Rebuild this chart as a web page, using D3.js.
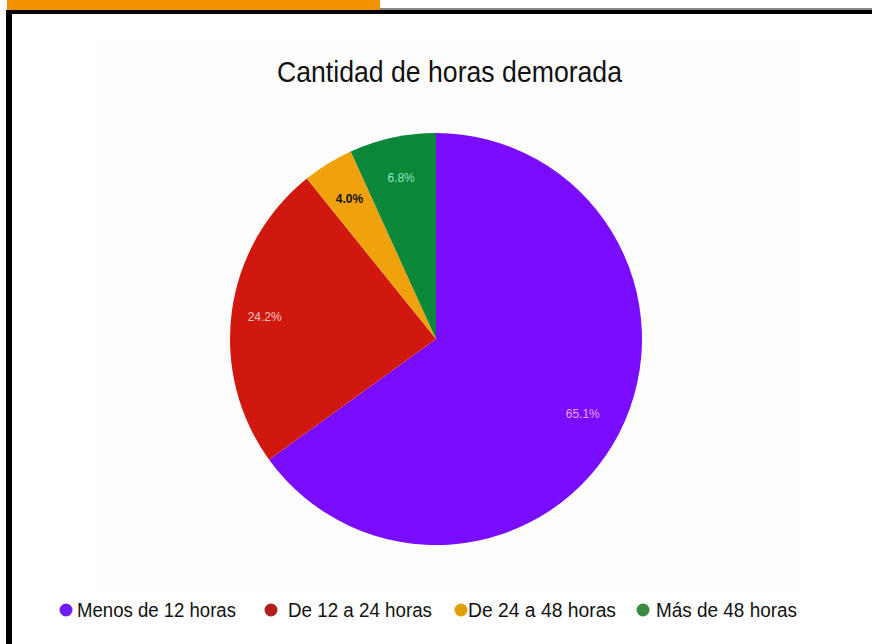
<!DOCTYPE html>
<html>
<head>
<meta charset="utf-8">
<script src="https://cdn.jsdelivr.net/npm/d3@7"></script>
<style>
  body { margin: 0; background: #fff; }
  svg { display: block; }
</style>
</head>
<body>
<svg></svg>
<script>
// data
var categories = ["Menos de 12 horas", "De 12 a 24 horas", "De 24 a 48 horas", "Más de 48 horas"];
var values = [65.1, 24.2, 4.0, 6.8];
var sliceColors = ["#7a0dff", "#d0180f", "#f0a20c", "#0b873a"];
var legendColors = ["#6f1cff", "#b21f1f", "#e2a006", "#3a8c42"];
var labelColors = ["#e7a6f2", "#f6c6c6", "#111111", "#8fe6c6"];
var title = "Cantidad de horas demorada";

var width = 872, height = 644;
var cx = 436, cy = 339, radius = 206;
var narrow = "'Liberation Sans Narrow', 'Arial Narrow', 'Liberation Sans', sans-serif";

var svg = d3.select("svg")
    .attr("width", width)
    .attr("height", height);

// frame
svg.append("rect")
    .attr("x", 7).attr("y", 0)
    .attr("width", 373).attr("height", 11)
    .attr("fill", "#f29100");
svg.append("rect")
    .attr("x", 380).attr("y", 8)
    .attr("width", width - 380).attr("height", 2)
    .attr("fill", "#888");
svg.append("rect")
    .attr("x", 6).attr("y", 10)
    .attr("width", width - 6).attr("height", 4)
    .attr("fill", "#000");
svg.append("rect")
    .attr("x", 6).attr("y", 10)
    .attr("width", 6).attr("height", height - 10)
    .attr("fill", "#000");

// faint backdrop of the pasted chart
svg.append("rect")
    .attr("x", 92).attr("y", 40)
    .attr("width", 712).attr("height", 556)
    .attr("fill", "#fefefe");

svg.append("text")
    .attr("x", 277)
    .attr("y", 82)
    .attr("textLength", 345)
    .attr("lengthAdjust", "spacingAndGlyphs")
    .style("font-family", narrow)
    .style("font-size", "30px")
    .attr("fill", "#111")
    .text(title);

var pie = d3.pie().sort(null).value(function(d) { return d; });
var arc = d3.arc().innerRadius(0).outerRadius(radius);
var labelArc = d3.arc().innerRadius(radius * 0.8).outerRadius(radius * 0.8);

var g = svg.append("g")
    .attr("transform", "translate(" + cx + "," + cy + ")");

var arcs = pie(values);

g.selectAll("path.slice")
    .data(arcs)
  .enter().append("path")
    .attr("class", "slice")
    .attr("d", arc)
    .attr("fill", function(d, i) { return sliceColors[i]; });

g.selectAll("text.pct")
    .data(arcs)
  .enter().append("text")
    .attr("class", "pct")
    .attr("transform", function(d, i) {
      var c = labelArc.centroid(d);
      if (i == 1) c[0] -= 8;
      return "translate(" + c + ")";
    })
    .attr("dy", "0.35em")
    .attr("text-anchor", "middle")
    .style("font-family", "'Liberation Sans', Arial, sans-serif")
    .style("font-size", "12px")
    .style("font-weight", function(d, i) { return i == 2 ? "bold" : "normal"; })
    .attr("fill", function(d, i) { return labelColors[i]; })
    .text(function(d) { return d.data.toFixed(1) + "%"; });

// legend
var legendX = [66, 271, 461, 643];
var legendGap = [11, 17, 7, 13];
var legendW = [159, 144, 148, 141];
var legendY = 610;

var legend = svg.selectAll("g.legend")
    .data(categories)
  .enter().append("g")
    .attr("class", "legend")
    .attr("transform", function(d, i) { return "translate(" + legendX[i] + "," + legendY + ")"; });

legend.append("circle")
    .attr("r", 6.5)
    .attr("fill", function(d, i) { return legendColors[i]; });

legend.append("text")
    .attr("x", function(d, i) { return legendGap[i]; })
    .attr("dy", "0.36em")
    .attr("textLength", function(d, i) { return legendW[i]; })
    .attr("lengthAdjust", "spacingAndGlyphs")
    .style("font-family", narrow)
    .style("font-size", "20px")
    .attr("fill", "#111")
    .text(function(d) { return d; });
</script>
</body>
</html>
